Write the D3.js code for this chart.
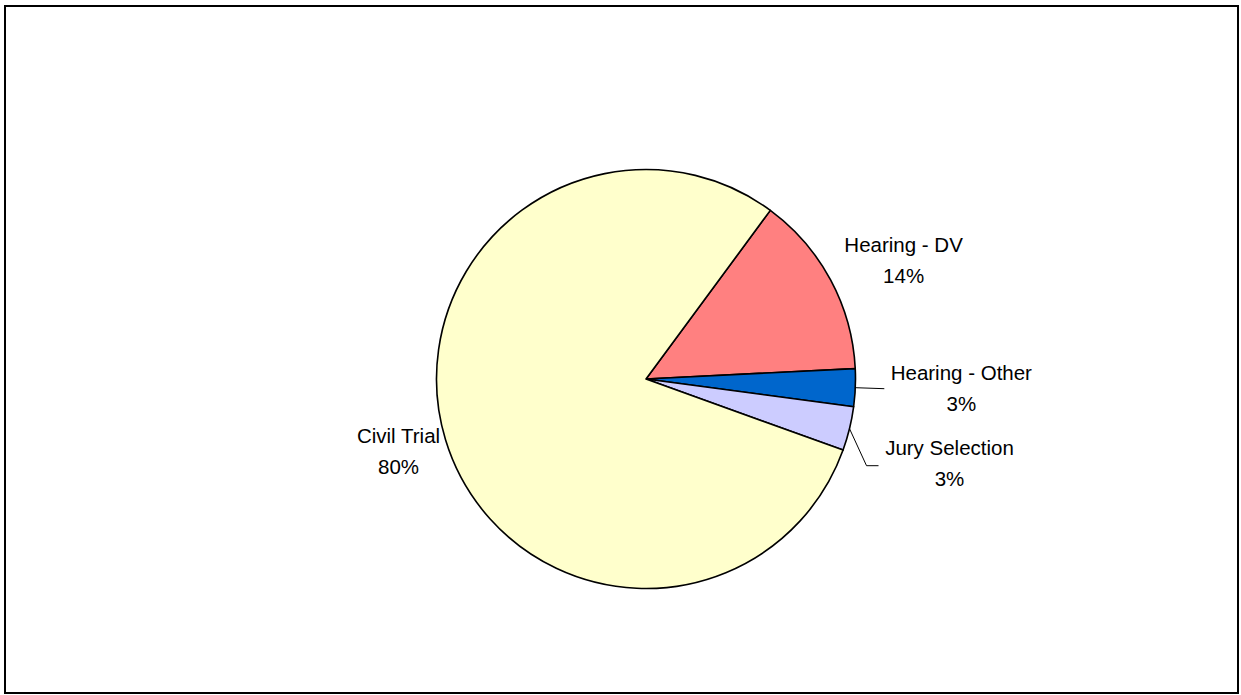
<!DOCTYPE html>
<html>
<head>
<meta charset="utf-8">
<script src="https://cdn.jsdelivr.net/npm/d3@7"></script>
<style>
  html, body { margin: 0; padding: 0; background: #ffffff; }
  svg { display: block; }
  text { font-family: "Liberation Sans", Arial, sans-serif; fill: #000; }
</style>
</head>
<body>
<svg id="chart" width="1241" height="695"></svg>
<script>
// Share of hearing time by proceeding type (percent)
const categories = ["Hearing - DV", "Hearing - Other", "Jury Selection", "Civil Trial"];
const shares = [14.1, 2.9, 3.4, 79.6];
const sliceColors = ["#FF8080", "#0066CC", "#CCCCFF", "#FFFFCC"];

// Layout
const W = 1241, H = 695;
const cx = 646, cy = 379, radius = 209.5;
const firstSliceDeg = 36.4;
const lineGap = 31;
// label offsets from the slice's outer mid-point (text centre, first baseline)
const labelNudge = [[73, -28], [106, -8], [100, 26], [-47, 3]];
// leader line points, relative to the label anchor (null = no leader)
const leaders = [null, [[-77, 9]], [[-83, 11], [-71, 11]], null];

const svg = d3.select("#chart");

svg.append("rect")
  .attr("x", 0).attr("y", 0).attr("width", W).attr("height", H)
  .attr("fill", "#ffffff");

// chart frame
svg.append("rect")
  .attr("x", 5).attr("y", 6).attr("width", 1233).attr("height", 687)
  .attr("fill", "none").attr("stroke", "#000").attr("stroke-width", 2);

const total = d3.sum(shares);
const start = firstSliceDeg * Math.PI / 180;
const pie = d3.pie().sort(null).value(d => d)
  .startAngle(start).endAngle(start + 2 * Math.PI);
const arcs = pie(shares);
const arc = d3.arc().innerRadius(0).outerRadius(radius);

const g = svg.append("g").attr("transform", `translate(${cx},${cy})`);

g.selectAll("path.slice")
  .data(arcs)
  .join("path")
  .attr("class", "slice")
  .attr("d", arc)
  .attr("fill", (d, i) => sliceColors[i])
  .attr("stroke", "#000")
  .attr("stroke-width", 1.6)
  .attr("stroke-linejoin", "round");

// labels and leader lines
arcs.forEach((d, i) => {
  const mid = (d.startAngle + d.endAngle) / 2;
  const ox = Math.sin(mid) * radius;
  const oy = -Math.cos(mid) * radius;
  const ax = ox + labelNudge[i][0];
  const ay = oy + labelNudge[i][1];

  if (leaders[i]) {
    const pts = [[ox, oy]].concat(leaders[i].map(p => [ax + p[0], ay + p[1]]));
    g.append("path")
      .attr("d", d3.line()(pts))
      .attr("fill", "none")
      .attr("stroke", "#000")
      .attr("stroke-width", 1);
  }

  const pct = Math.round(d.value / total * 100) + "%";
  const t = g.append("text")
    .attr("text-anchor", "middle")
    .attr("font-size", 20.5);
  t.append("tspan").attr("x", ax).attr("y", ay).text(categories[i]);
  t.append("tspan").attr("x", ax).attr("y", ay + lineGap).text(pct);
});
</script>
</body>
</html>
